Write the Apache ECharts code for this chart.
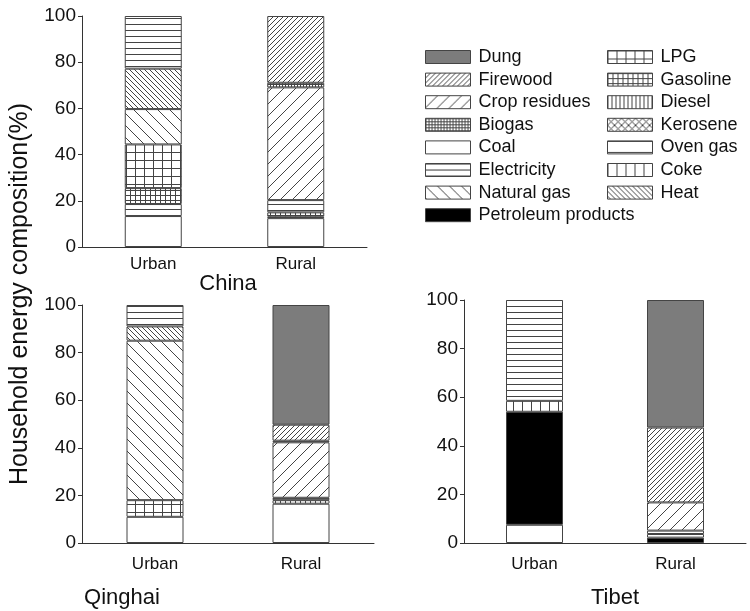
<!DOCTYPE html>
<html lang="en">
<head>
    <meta charset="UTF-8">
    <title>Household energy composition</title>
    <script src="https://cdn.jsdelivr.net/npm/echarts@6/dist/echarts.min.js"></script>
    <style>
        html, body { margin: 0; padding: 0; background: #fff; }
        #main { width: 750px; height: 611px; }
    </style>
</head>
<body>
<div id="main"></div>
<script>
    // bar categories and energy types (stacking order, bottom -> top)
    var categories = ['Urban', 'Rural'];
    var stackOrder = ['Coal', 'Petroleum products', 'Coke', 'Oven gas', 'Gasoline', 'LPG', 'Natural gas', 'Heat',
        'Electricity', 'Diesel', 'Kerosene', 'Crop residues', 'Biogas', 'Firewood', 'Dung'];
    var legendLeft = ['Dung', 'Firewood', 'Crop residues', 'Biogas', 'Coal', 'Electricity', 'Natural gas', 'Petroleum products'];
    var legendRight = ['LPG', 'Gasoline', 'Diesel', 'Kerosene', 'Oven gas', 'Coke', 'Heat'];

    // shares in %, same order as stackOrder
    var chinaUrban   = [13.4, 0, 0, 5.2, 6.9, 18.9, 15.3, 17.5, 22.8, 0, 0, 0, 0, 0, 0];
    var chinaRural   = [12.5, 0.6, 0, 0, 1.9, 0, 0, 0, 5.3, 0, 0, 48.8, 2.0, 28.9, 0];
    var qinghaiUrban = [11, 0, 0, 0, 0, 7, 67, 6, 9, 0, 0, 0, 0, 0, 0];
    var qinghaiRural = [16.5, 0, 0, 0, 1.5, 0, 0, 0, 1.0, 0, 0, 23.3, 0.7, 6.7, 50.3];
    var tibetUrban   = [7.5, 46.5, 4.5, 0, 0, 0, 0, 0, 41.5, 0, 0, 0, 0, 0, 0];
    var tibetRural   = [0, 2.2, 0, 1.5, 0, 0, 0, 0, 1.4, 0, 0, 11.6, 0, 30.8, 52.5];

    var yTicks = [0, 20, 40, 60, 80, 100];
    var font = "'Liberation Sans', Arial, Helvetica, sans-serif";
    var ink = '#444';

    function tile(w, h, draw) {
        var c = document.createElement('canvas');
        c.width = w;
        c.height = h;
        var g = c.getContext('2d');
        g.fillStyle = '#fff';
        g.fillRect(0, 0, w, h);
        g.strokeStyle = ink;
        g.lineWidth = 1;
        g.beginPath();
        draw(g, w, h);
        g.stroke();
        return {image: c, repeat: 'repeat'};
    }
    function hlines(s) {
        return tile(8, s, function (g, w) { g.moveTo(0, 0.5); g.lineTo(w, 0.5); });
    }
    function vlines(s) {
        return tile(s, 8, function (g, w, h) { g.moveTo(0.5, 0); g.lineTo(0.5, h); });
    }
    function grid(sx, sy) {
        return tile(sx, sy, function (g, w, h) {
            g.moveTo(0, 0.5); g.lineTo(w, 0.5);
            g.moveTo(0.5, 0); g.lineTo(0.5, h);
        });
    }
    function slash(s) {
        return tile(s, s, function (g, w, h) {
            for (var k = -1; k <= 1; k++) { g.moveTo(k * w, h); g.lineTo(k * w + w, 0); }
        });
    }
    function back(s) {
        return tile(s, s, function (g, w, h) {
            for (var k = -1; k <= 1; k++) { g.moveTo(k * w, 0); g.lineTo(k * w + w, h); }
        });
    }
    function cross(s) {
        return tile(s, s, function (g, w, h) {
            for (var k = -1; k <= 1; k++) {
                g.moveTo(k * w, h); g.lineTo(k * w + w, 0);
                g.moveTo(k * w, 0); g.lineTo(k * w + w, h);
            }
        });
    }

    var fills = {
        'Dung': '#7c7c7c',
        'Firewood': slash(5),
        'Crop residues': slash(12),
        'Biogas': grid(3, 3),
        'Coal': '#ffffff',
        'Electricity': hlines(6),
        'Natural gas': back(12),
        'Petroleum products': '#000000',
        'LPG': grid(9, 8),
        'Gasoline': grid(5, 5),
        'Diesel': vlines(4),
        'Kerosene': cross(7),
        'Oven gas': hlines(11),
        'Coke': vlines(9),
        'Heat': back(5)
    };

    var panels = [
        {title: 'China', urban: chinaUrban, rural: chinaRural},
        {title: 'Qinghai', urban: qinghaiUrban, rural: qinghaiRural},
        {title: 'Tibet', urban: tibetUrban, rural: tibetRural}
    ];
    var grids = [
        {left: 82, top: 16, width: 285, height: 231},
        {left: 82, top: 305, width: 292, height: 238},
        {left: 464, top: 300, width: 282, height: 243}
    ];
    var labelMargins = [9, 13, 13];

    var xAxes = [], yAxes = [], series = [];
    panels.forEach(function (p, i) {
        xAxes.push({
            type: 'category', gridIndex: i, data: categories,
            axisLine: {lineStyle: {color: '#333', width: 1}},
            axisTick: {alignWithLabel: true, length: 5, lineStyle: {color: '#333'}},
            axisLabel: {fontFamily: font, fontSize: 17, color: '#111', margin: labelMargins[i]}
        });
        yAxes.push({
            type: 'value', gridIndex: i, min: yTicks[0], max: yTicks[yTicks.length - 1], interval: 20,
            splitLine: {show: false},
            axisLine: {show: true, lineStyle: {color: '#333', width: 1}},
            axisTick: {show: true, length: 4, lineStyle: {color: '#333'}},
            axisLabel: {fontFamily: font, fontSize: 19, color: '#111', margin: 6}
        });
        stackOrder.forEach(function (name, k) {
            series.push({
                type: 'bar', name: name, xAxisIndex: i, yAxisIndex: i, stack: 'panel' + i,
                barWidth: 57,
                data: [p.urban[k] || '-', p.rural[k] || '-'],
                itemStyle: {color: fills[name], borderColor: ink, borderWidth: 1},
                emphasis: {disabled: true}
            });
        });
    });

    var legendBase = {
        orient: 'vertical', icon: 'rect', itemWidth: 45, itemHeight: 13, itemGap: 4.6,
        padding: 0, selectedMode: false,
        itemStyle: {borderColor: ink, borderWidth: 1},
        textStyle: {fontFamily: font, fontSize: 18, color: '#111', lineHeight: 18, padding: [0, 0, 0, 3]}
    };
    var titleStyle = {fontFamily: font, fontSize: 22, fontWeight: 'normal', color: '#111'};

    var chart = echarts.init(document.getElementById('main'));
    chart.setOption({
        animation: false,
        title: [
            {text: 'China', left: 228, top: 273, textAlign: 'center', padding: 0, textStyle: titleStyle},
            {text: 'Qinghai', left: 122, top: 587, textAlign: 'center', padding: 0, textStyle: titleStyle},
            {text: 'Tibet', left: 615, top: 587, textAlign: 'center', padding: 0, textStyle: titleStyle}
        ],
        legend: [
            Object.assign({}, legendBase, {data: legendLeft, left: 425, top: 48}),
            Object.assign({}, legendBase, {data: legendRight, left: 607, top: 48})
        ],
        grid: grids,
        xAxis: xAxes,
        yAxis: yAxes,
        series: series,
        graphic: [{
            type: 'text', x: 20, y: 294, rotation: Math.PI / 2,
            style: {
                text: 'Household energy composition(%)', fontFamily: font, fontSize: 25, fill: '#111',
                align: 'center', verticalAlign: 'middle'
            }
        }]
    });
</script>
</body>
</html>
